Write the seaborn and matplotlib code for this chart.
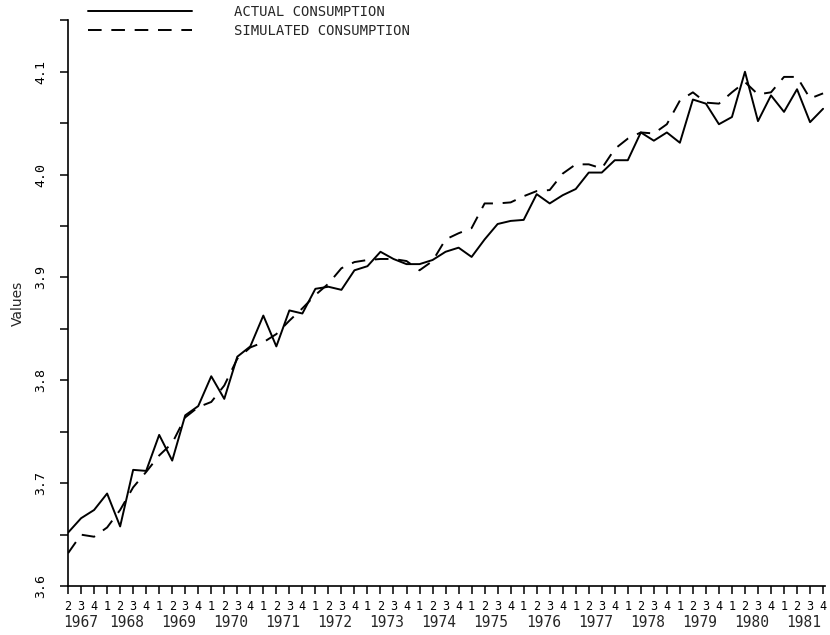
import numpy as np
import pandas as pd
import matplotlib
matplotlib.use('Agg')
import matplotlib.pyplot as plt
import seaborn as sns
from matplotlib.ticker import MultipleLocator, FuncFormatter

# quarterly series, 1967Q2 .. 1981Q4
actual = [3.652, 3.666, 3.674, 3.690, 3.658, 3.713, 3.712, 3.747, 3.722, 3.766,
          3.775, 3.804, 3.782, 3.823, 3.833, 3.863, 3.833, 3.868, 3.865, 3.889,
          3.891, 3.888, 3.907, 3.911, 3.925, 3.918, 3.913, 3.913, 3.917, 3.925,
          3.929, 3.920, 3.937, 3.952, 3.955, 3.956, 3.981, 3.972, 3.980, 3.986,
          4.002, 4.002, 4.014, 4.014, 4.041, 4.033, 4.041, 4.031, 4.073, 4.069,
          4.049, 4.056, 4.100, 4.052, 4.077, 4.061, 4.083, 4.051, 4.064]
simulated = [3.632, 3.650, 3.648, 3.657, 3.674, 3.696, 3.711, 3.727, 3.739, 3.764,
             3.774, 3.779, 3.795, 3.821, 3.832, 3.837, 3.845, 3.858, 3.870, 3.883,
             3.894, 3.909, 3.915, 3.917, 3.918, 3.918, 3.916, 3.907, 3.916, 3.937,
             3.943, 3.948, 3.972, 3.972, 3.973, 3.979, 3.984, 3.985, 4.001, 4.010,
             4.010, 4.006, 4.025, 4.035, 4.041, 4.040, 4.049, 4.072, 4.080, 4.070,
             4.069, 4.080, 4.090, 4.078, 4.080, 4.095, 4.095, 4.074, 4.079]
years = list(range(1967, 1982))
first_quarter = 2

periods = [(y, q) for y in years for q in range(1, 5)
           if not (y == years[0] and q < first_quarter)]
quarter_labels = [str(q) for y, q in periods]

df = pd.DataFrame({'t': range(len(periods)),
                   'ACTUAL CONSUMPTION': actual,
                   'SIMULATED CONSUMPTION': simulated})
long = df.melt(id_vars='t', var_name='series', value_name='value')

sns.set_style('ticks')
plt.rcParams['font.family'] = ['DejaVu Sans Mono', 'DejaVu Sans']

fig = plt.figure(figsize=(8.3, 6.35), dpi=100)
ax = fig.add_axes([0.082, 0.077, 0.912, 0.891])

sns.lineplot(data=long, x='t', y='value', hue='series', style='series',
             palette=['black', 'black'],
             dashes={'ACTUAL CONSUMPTION': '', 'SIMULATED CONSUMPTION': (7, 5)},
             linewidth=1.4, ax=ax)

ax.set_xlim(0, 58.15)
ax.set_ylim(3.6, 4.15)
sns.despine(ax=ax)
for s in ['left', 'bottom']:
    ax.spines[s].set_linewidth(1.2)
    ax.spines[s].set_color('black')

# quarters on the axis
ax.set_xticks(range(len(periods)))
ax.set_xticklabels(quarter_labels)
ax.tick_params(axis='x', length=6, width=1.1, pad=4, labelsize=8.5, colors='black')

# y ticks every 0.05, labels every 0.1
ax.yaxis.set_major_locator(MultipleLocator(0.05))
ax.yaxis.set_major_formatter(FuncFormatter(
    lambda v, p: f'{v:.1f}' if abs(v * 10 - round(v * 10)) < 1e-6 else ''))
ax.tick_params(axis='y', length=6, width=1.1, pad=9, labelsize=9.5,
               labelrotation=90, colors='black')
for lab in ax.get_yticklabels():
    lab.set_va('center')
ax.set_ylabel('Values', fontsize=10, labelpad=7, family='DejaVu Sans')
ax.set_xlabel('')

# years below the quarters
centers = [np.mean([i for i, (y, q) in enumerate(periods) if y == yr]) for yr in years]
sec = ax.secondary_xaxis('bottom')
sec.set_xticks(centers, labels=[str(y) for y in years])
sec.tick_params(length=0, pad=21, labelsize=10.5)
sec.spines['bottom'].set_visible(False)

handles, labels = ax.get_legend_handles_labels()
ax.get_legend().remove()
fig.legend(handles, labels, loc='upper left', bbox_to_anchor=(88 / 830, 1 - 5 / 635),
           frameon=False, handlelength=7.5, handletextpad=3, borderpad=0,
           borderaxespad=0, labelspacing=0.35, fontsize=10)

fig.savefig('out.png', dpi=100)
